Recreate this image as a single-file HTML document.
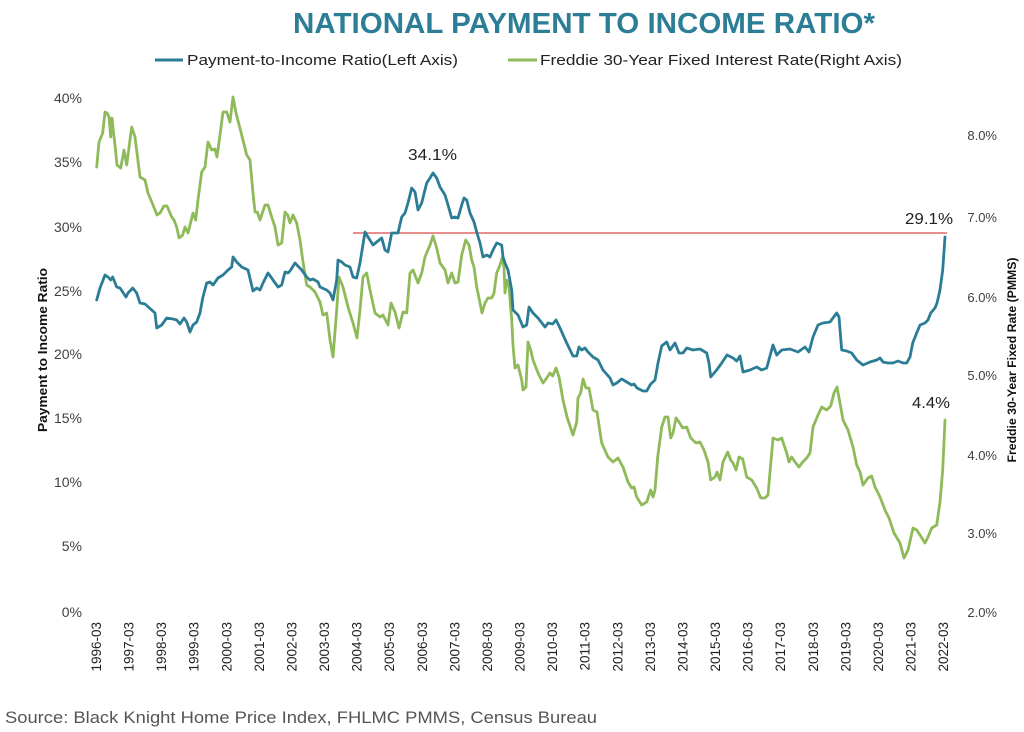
<!DOCTYPE html>
<html>
<head>
<meta charset="utf-8">
<style>
html,body{margin:0;padding:0;background:#fff;}
svg{display:block;}
text{font-family:"Liberation Sans",Arial,sans-serif;}
</style>
</head>
<body>
<svg width="1024" height="732" viewBox="0 0 1024 732" xmlns="http://www.w3.org/2000/svg">
<rect width="1024" height="732" fill="#fff"/>
<!-- Title -->
<text x="293" y="33" font-size="29" font-weight="bold" fill="#2c7e96" textLength="582" lengthAdjust="spacingAndGlyphs">NATIONAL PAYMENT TO INCOME RATIO*</text>
<!-- Legend -->
<line x1="155" y1="60" x2="183" y2="60" stroke="#2b7d95" stroke-width="3"/>
<text x="187" y="65" font-size="15" fill="#222" textLength="271" lengthAdjust="spacingAndGlyphs">Payment-to-Income Ratio(Left Axis)</text>
<line x1="508" y1="60" x2="537" y2="60" stroke="#8fba59" stroke-width="3"/>
<text x="540" y="65" font-size="15" fill="#222" textLength="362" lengthAdjust="spacingAndGlyphs">Freddie 30-Year Fixed Interest Rate(Right Axis)</text>

<!-- Left axis labels -->
<g font-size="14" fill="#404040" text-anchor="end">
<text x="82" y="103">40%</text>
<text x="82" y="167">35%</text>
<text x="82" y="232">30%</text>
<text x="82" y="296">25%</text>
<text x="82" y="359">20%</text>
<text x="82" y="423">15%</text>
<text x="82" y="487">10%</text>
<text x="82" y="551">5%</text>
<text x="82" y="617">0%</text>
</g>
<!-- Right axis labels -->
<g font-size="13" fill="#404040" text-anchor="end">
<text x="997" y="140">8.0%</text>
<text x="997" y="222">7.0%</text>
<text x="997" y="302">6.0%</text>
<text x="997" y="380">5.0%</text>
<text x="997" y="460">4.0%</text>
<text x="997" y="538">3.0%</text>
<text x="997" y="617">2.0%</text>
</g>
<!-- Axis titles -->
<text transform="translate(47,350) rotate(-90)" text-anchor="middle" font-size="12.5" font-weight="bold" fill="#111" textLength="164" lengthAdjust="spacingAndGlyphs">Payment to Income Ratio</text>
<text transform="translate(1016,360) rotate(-90)" text-anchor="middle" font-size="12" font-weight="bold" fill="#111" textLength="205" lengthAdjust="spacingAndGlyphs">Freddie 30-Year Fixed Rate (PMMS)</text>

<!-- X labels -->
<g font-size="13.5" fill="#222" text-anchor="end">
<text transform="translate(101,622) rotate(-90)">1996-03</text>
<text transform="translate(133.6,622) rotate(-90)">1997-03</text>
<text transform="translate(166.2,622) rotate(-90)">1998-03</text>
<text transform="translate(198.7,622) rotate(-90)">1999-03</text>
<text transform="translate(231.3,622) rotate(-90)">2000-03</text>
<text transform="translate(263.9,622) rotate(-90)">2001-03</text>
<text transform="translate(296.5,622) rotate(-90)">2002-03</text>
<text transform="translate(329.1,622) rotate(-90)">2003-03</text>
<text transform="translate(361.6,622) rotate(-90)">2004-03</text>
<text transform="translate(394.2,622) rotate(-90)">2005-03</text>
<text transform="translate(426.8,622) rotate(-90)">2006-03</text>
<text transform="translate(459.4,622) rotate(-90)">2007-03</text>
<text transform="translate(492,622) rotate(-90)">2008-03</text>
<text transform="translate(524.5,622) rotate(-90)">2009-03</text>
<text transform="translate(557.1,622) rotate(-90)">2010-03</text>
<text transform="translate(589.7,622) rotate(-90)">2011-03</text>
<text transform="translate(622.3,622) rotate(-90)">2012-03</text>
<text transform="translate(654.9,622) rotate(-90)">2013-03</text>
<text transform="translate(687.4,622) rotate(-90)">2014-03</text>
<text transform="translate(720,622) rotate(-90)">2015-03</text>
<text transform="translate(752.6,622) rotate(-90)">2016-03</text>
<text transform="translate(785.2,622) rotate(-90)">2017-03</text>
<text transform="translate(817.8,622) rotate(-90)">2018-03</text>
<text transform="translate(850.3,622) rotate(-90)">2019-03</text>
<text transform="translate(882.9,622) rotate(-90)">2020-03</text>
<text transform="translate(915.5,622) rotate(-90)">2021-03</text>
<text transform="translate(948,622) rotate(-90)">2022-03</text>
</g>

<!-- Red reference line -->
<line x1="353" y1="233" x2="947" y2="233" stroke="#e06a66" stroke-width="1.5"/>

<!-- Green series -->
<polyline fill="none" stroke="#8fba59" stroke-width="2.8" stroke-linejoin="round" stroke-linecap="round" points="96.7,167 99,142 102.7,133 105,112 107,113 109,117 110.7,137 112,118 113,128 115,145 117,165 120.7,168 124,150 126.7,165 131.7,127 135,137 140,177 145,180 148,193 153,205 157,215 160,213 164,206 167,206 171.7,217 174,220 176.7,227 179,238 182.7,235 185,227 188,233 193,213 195.7,220 198,200 201.7,172 205,167 208,142 211.7,150 215,149 217,157 220,135 223,112 226.7,112 230,122 233,97 236,113 241.7,135 246.7,155 250,160 252.7,190 255,212 257.3,212 260,220 265,205 268,205 271.7,217 275,227 278,245 281.7,243 285,212 287.7,215 290,223 293,215 296.7,223 300,240 303,262 306.7,285 310,287 315,292 320,302 323,315 326.7,313 330,340 333,357 336.7,310 339,277 343,287 348,307 353,323 357,338 360,310 363,277 366.7,273 370,290 375,313 380,317 383,315 388,325 391,303 395,312 399,328 403,312 406.7,313 410,273 413,270 418,283 421.7,273 425,257 430,245 433,236 436.7,248 440,263 445,270 448,283 451.7,273 455,283 458,282 461.7,255 465.7,240 469,245 471.7,260 474,267 476.7,287 479,298 482,313 485,303 488,298 491.7,298 494,293 496.7,273 500,265 502,258 504,267 505,293 506.7,280 509,287 511.7,320 513,345 515,368 518,365 521.7,380 523,390 526,387 528,342 530.7,350 533,360 538,373 543,383 546.7,378 550,373 552.7,376 556,368 559,377 563,400 567,417 573,435 576.7,422 578,398 580.7,393 583,379 586,388 589,388 593,410 597,412 601.7,443 608,457 613,462 618,458 623,467 628,482 631.7,488 634,487 636.7,497 641.7,505 646.7,502 650.7,490 653,497 655,490 657.7,457 661.7,427 665,417 668,417 670.7,438 673,433 676,418 679,422 682.7,428 686.7,427 690.7,438 696,443 700,442 704,450 708,462 710.7,480 715,477 717,472 720,480 723,462 727.7,452 730.7,460 733,463 736,470 739,457 742.7,459 746.7,477 751.7,480 756.7,488 760.7,498 765,498 768,495 773,438 778,440 781.7,438 786.7,453 789,462 791.7,457 795,462 799,467 802.7,462 806.7,458 810,453 813,427 818,415 821.7,407 826.7,410 830.7,406 834,393 837,387 840,403 843,420 848,430 853,447 856.7,465 860,472 863,485 868,478 871.7,476 875,487 880,497 885,510 889,518 894,533 900,543 904,558 908,550 913,528 916.7,530 920,535 925,543 928,537 931.7,528 936.7,525 940,502 942.7,470 945,420"/>

<!-- Blue series -->
<polyline fill="none" stroke="#2b7d95" stroke-width="2.8" stroke-linejoin="round" stroke-linecap="round" points="96.7,300 100,288 105,275 108,277 110.7,280 112.7,277 116.7,287 120,288 126,297 128,293 132.7,288 136.7,293 140,303 145,304 151.7,310 155,313 156.7,328 161.7,325 166.7,318 173,319 176.7,320 180,324 184,318 186.7,322 190,332 193,325 196.7,322 200,313 202.7,298 206.7,283 210,282 213,285 218,278 223,275 228,270 231.7,267 233,257 236.7,262 241.7,267 248,270 253,291 256.7,288 260,290 263,283 268,273 273,280 278,287 281.7,285 285,272 288,273 290,271 295,263 301.7,270 306.7,277 310,280 313,279 318,282 320,287 326.7,290 330,293 333,300 336.7,280 338,260 341.7,262 345,265 350,267 353,277 356.7,278 360,263 365,232 368,237 373,245 376.7,242 381.7,238 385,250 388,252 391.7,233 398,233 401.7,217 405,213 408,203 411.7,188 415,192 418,210 421.7,203 426.7,183 430,178 433,173 436.7,178 440,187 445,195 448,205 451.7,218 455,217 458,218 461.7,205 464,198 466.7,200 470,213 474,222 476.7,232 480,243 483,257 486.7,255 490,257 493,250 496.7,243 501.7,245 503,257 505,263 508,270 511.7,290 513,310 518,315 523,327 526.7,325 529,307 533,313 538,318 545,327 548,323 552.7,324 556,320 560,328 566.7,343 573,356 576.7,356 579,347 581.7,350 585,348 588,352 593,357 598,360 603,370 610,378 613,385 616.7,383 621.7,379 626.7,382 631.7,385 634,384 637,388 643,391 646.7,391 650.7,384 655,380 658,363 661.7,346 666.7,342 670,350 675,343 679,353 683,353 686.7,348 693,350 700,349 706.7,353 709,363 710.7,377 716.7,370 721.7,363 727,355 733,358 736.7,361 740,356 743,372 750,370 756.7,367 761.7,370 766.7,368 773,345 776.7,355 781.7,350 790,349 798,352 805,347 809,352 813,337 818,325 823,323 830,322 836.7,313 839,317 841.7,350 846.7,351 851.7,353 856.7,360 863,365 870,362 876.7,360 880,358 883,362 888,363 893,363 898,361 903,363 906.7,363 910,357 912.7,343 916.7,333 920,325 925,323 928,320 930.7,313 935,308 937,303 940,290 942.7,270 945,237"/>

<!-- Data labels -->
<g font-size="16" fill="#222">
<text x="408" y="160" textLength="49" lengthAdjust="spacingAndGlyphs">34.1%</text>
<text x="905" y="224" textLength="48" lengthAdjust="spacingAndGlyphs">29.1%</text>
<text x="912" y="408" textLength="38" lengthAdjust="spacingAndGlyphs">4.4%</text>
</g>

<!-- Source -->
<text x="5" y="723" font-size="17" fill="#555" textLength="592" lengthAdjust="spacingAndGlyphs">Source: Black Knight Home Price Index, FHLMC PMMS, Census Bureau</text>
</svg>
</body>
</html>
